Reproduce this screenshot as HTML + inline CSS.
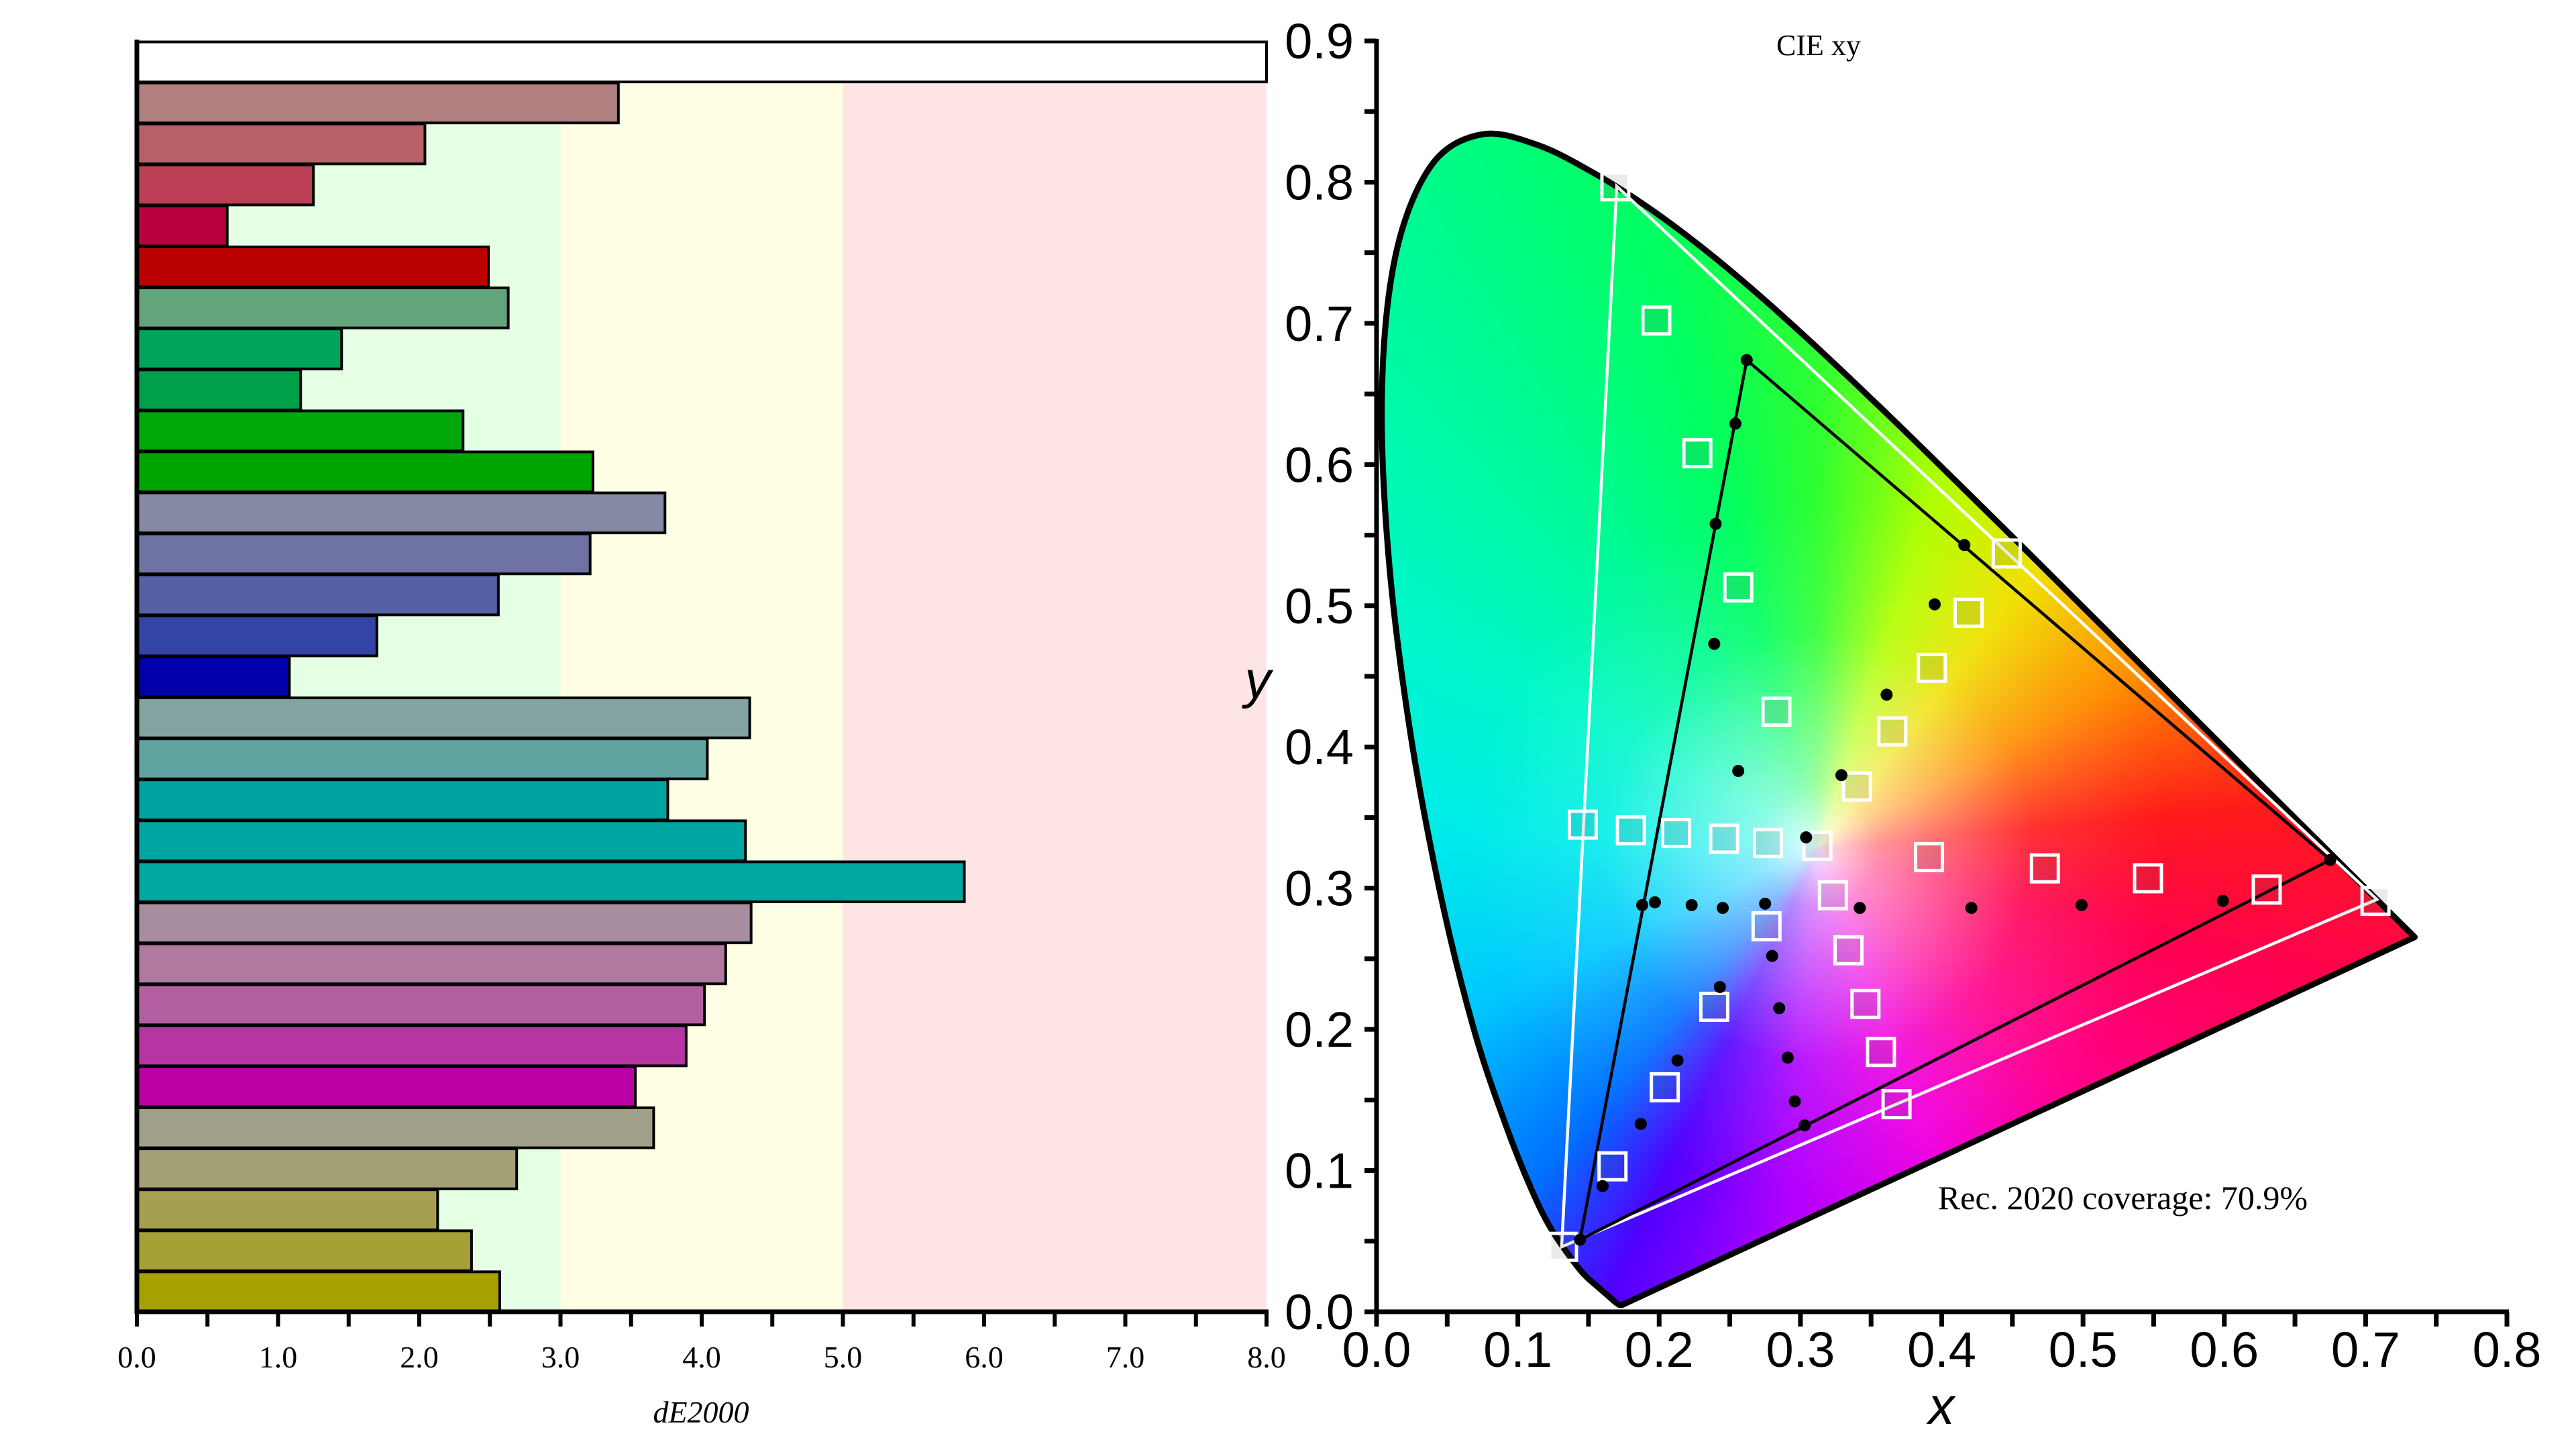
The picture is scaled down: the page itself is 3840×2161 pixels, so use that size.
<!DOCTYPE html>
<html><head><meta charset="utf-8"><style>
html,body{margin:0;padding:0;background:#fff;}
#wrap{position:relative;width:3840px;height:2161px;overflow:hidden;}
#fill{position:absolute;left:0;top:0;width:3840px;height:2161px;}
svg{position:absolute;left:0;top:0;}
</style></head><body>
<div id="wrap">
<div id="fill"></div>
<svg id="svg" width="3840" height="2161" xmlns="http://www.w3.org/2000/svg"></svg>
</div>
<script>
// ---- bar chart data ----
const barValues = [8.0,3.41,2.04,1.25,0.64,2.49,2.63,1.45,1.16,2.31,3.23,3.74,3.21,2.56,1.70,1.08,4.34,4.04,3.76,4.31,5.86,4.35,4.17,4.02,3.89,3.53,3.66,2.69,2.13,2.37,2.57];
const barColors = ['#ffffff','#b07f80','#b86068','#bb4055','#bb0040','#bb0000','#64a47a','#00a35c','#00a04a','#00a80a','#00a500','#8589a3','#6e73a3','#5660a5','#3344a5','#0000aa','#82a3a0','#5ea3a0','#00a3a0','#00a6a3','#00a8a0','#a78d9f','#b07aa0','#b55fa3','#b735a3','#bb00a3','#a0a08a','#a3a075','#a5a04f','#a6a035','#a6a000'];
const bandEdges = [0,3,5,8];
const bandColors = ['#e5ffe5','#ffffe5','#ffe4e6'];
const barTicks = ['0.0','1.0','2.0','3.0','4.0','5.0','6.0','7.0','8.0'];
// ---- CIE chart data ----
const locusX = [0.1741,0.1738,0.1733,0.1726,0.1714,0.1689,0.1644,0.1566,0.1440,0.1241,0.1096,0.0913,0.0687,0.0454,0.0235,0.0082,0.0039,0.0139,0.0389,0.0743,0.1142,0.1547,0.1929,0.2296,0.2658,0.3016,0.3373,0.3731,0.4087,0.4441,0.4788,0.5125,0.5448,0.5752,0.6029,0.6270,0.6482,0.6658,0.6915,0.7079,0.7190,0.7260,0.7347];
const locusY = [0.0050,0.0049,0.0048,0.0048,0.0051,0.0069,0.0109,0.0177,0.0297,0.0578,0.0868,0.1327,0.2007,0.2950,0.4127,0.5384,0.6548,0.7502,0.8120,0.8338,0.8262,0.8059,0.7816,0.7543,0.7243,0.6923,0.6589,0.6245,0.5896,0.5547,0.5202,0.4866,0.4544,0.4242,0.3965,0.3725,0.3514,0.3340,0.3083,0.2920,0.2809,0.2740,0.2653];
const rec2020X = [0.708,0.170,0.131];
const rec2020Y = [0.292,0.797,0.046];
const gamutX = [0.675,0.262,0.144];
const gamutY = [0.320,0.674,0.051];
const targetX = [0.169,0.198,0.227,0.256,0.283,0.146,0.180,0.212,0.246,0.277,0.312,0.340,0.365,0.393,0.419,0.446,0.391,0.473,0.546,0.630,0.707,0.323,0.334,0.346,0.357,0.368,0.276,0.239,0.204,0.167,0.132];
const targetY = [0.797,0.702,0.608,0.513,0.425,0.345,0.341,0.339,0.335,0.332,0.330,0.372,0.411,0.456,0.495,0.537,0.322,0.314,0.307,0.299,0.291,0.295,0.256,0.218,0.184,0.147,0.273,0.216,0.159,0.103,0.046];
const measX = [0.262,0.254,0.240,0.239,0.256,0.188,0.197,0.223,0.245,0.275,0.304,0.329,0.361,0.395,0.416,0.342,0.421,0.499,0.599,0.675,0.280,0.285,0.291,0.296,0.303,0.243,0.213,0.187,0.160,0.144];
const measY = [0.674,0.629,0.558,0.473,0.383,0.288,0.290,0.288,0.286,0.289,0.336,0.380,0.437,0.501,0.543,0.286,0.286,0.288,0.291,0.320,0.252,0.215,0.180,0.149,0.132,0.230,0.178,0.133,0.089,0.051];
const xTicks = ['0.0','0.1','0.2','0.3','0.4','0.5','0.6','0.7','0.8'];
const yTicks = ['0.0','0.1','0.2','0.3','0.4','0.5','0.6','0.7','0.8','0.9'];

const NS='http://www.w3.org/2000/svg';
const svg=document.getElementById('svg');
function mk(tag,attrs,parent){const e=document.createElementNS(NS,tag);for(const k in attrs)e.setAttribute(k,attrs[k]);(parent||svg).appendChild(e);return e;}

// ---- bar chart ----
const BL=204,BR=1888,BT=61,BB=1955;
const bx=v=>BL+(v/8)*(BR-BL);
const rowH=(BB-BT)/barValues.length;
const by=i=>BT+i*rowH;
const gBands=mk('g',{});


for(let i=0;i<bandColors.length;i++){
  const r=mk('rect',{x:bx(bandEdges[i]),y:by(1),width:bx(bandEdges[i+1])-bx(bandEdges[i]),height:BB-by(1),fill:bandColors[i]},gBands);
  
  
}
const gBars=mk('g',{});


for(let i=0;i<barValues.length;i++){
  const r=mk('rect',{x:bx(0),y:by(i)+1.5,width:bx(barValues[i])-bx(0),height:rowH-1.5,fill:barColors[i],stroke:'#000','stroke-width':4},gBars);
  
  
}
const gBA=mk('g',{});


mk('line',{x1:BL,y1:BT-2,x2:BL,y2:BB+3,stroke:'#000','stroke-width':7},gBA);
mk('line',{x1:BL-3,y1:BB,x2:BR+3,y2:BB,stroke:'#000','stroke-width':7},gBA);
for(let k=0;k<=16;k++){
  mk('line',{x1:bx(k/2),y1:BB,x2:bx(k/2),y2:BB+22,stroke:'#000','stroke-width':6},gBA);
}
for(let i=0;i<barTicks.length;i++){
  const t=mk('text',{x:bx(i),y:2038,'text-anchor':'middle','font-family':'Liberation Serif, serif','font-size':46,fill:'#000'},gBA);
  t.textContent=barTicks[i];
  
  
}
const bxt=mk('text',{x:1045,y:2120,'text-anchor':'middle','font-family':'Liberation Serif, serif','font-size':46,'font-style':'italic',fill:'#000'});
bxt.textContent='dE2000';



// ---- CIE chart ----
const CL=2052,CR=3737,CB=1955,CT=61;
const cx=v=>CL+(v/0.8)*(CR-CL);
const cy=v=>CB-(v/0.9)*(CB-CT);
// smooth closed path (Catmull-Rom through locus points, straight purple line)
const P=locusX.map((x,i)=>[cx(x),cy(locusY[i])]);
let d='M'+P[0][0].toFixed(1)+' '+P[0][1].toFixed(1)+' ';
for(let i=0;i<P.length-1;i++){
  const p0=P[Math.max(i-1,0)],p1=P[i],p2=P[i+1],p3=P[Math.min(i+2,P.length-1)];
  const c1=[p1[0]+(p2[0]-p0[0])/6,p1[1]+(p2[1]-p0[1])/6];
  const c2=[p2[0]-(p3[0]-p1[0])/6,p2[1]-(p3[1]-p1[1])/6];
  d+='C'+c1[0].toFixed(1)+' '+c1[1].toFixed(1)+' '+c2[0].toFixed(1)+' '+c2[1].toFixed(1)+' '+p2[0].toFixed(1)+' '+p2[1].toFixed(1)+' ';
}
d+='Z';
const wpx=cx(0.3127),wpy=cy(0.329);
const fill=document.getElementById('fill');
fill.style.clipPath="path('"+d+"')";
fill.style.background=
 `radial-gradient(circle at ${wpx}px ${wpy}px, rgba(255,255,255,0.9) 0px, rgba(255,255,255,0.55) 90px, rgba(255,255,255,0.1) 320px, rgba(255,255,255,0) 520px),`+
 `conic-gradient(from 0deg at ${wpx}px ${wpy}px, #30ff30 0deg, #b0ff00 18deg, #f0e000 38deg, #ff8c00 62deg, #ff1a1a 85deg, #ff0050 105deg, #ff0090 135deg, #f000e0 160deg, #b000ff 185deg, #5000ff 205deg, #0070ff 220deg, #00c8ff 245deg, #00ecea 272deg, #00f8c8 300deg, #00fa98 325deg, #00ff60 345deg, #30ff30 360deg)`;

const gLoc=mk('path',{d:d,fill:'none',stroke:'#000','stroke-width':9,'stroke-linejoin':'round'});



function tri(X,Y,color,name){
  let p='';for(let i=0;i<X.length;i++)p+=cx(X[i])+','+cy(Y[i])+' ';
  const e=mk('polygon',{points:p,fill:'none',stroke:color,'stroke-width':4.5});
  
  
}
tri(rec2020X,rec2020Y,'#fff','rec2020-triangle');
tri(gamutX,gamutY,'#000','display-gamut-triangle');

const gT=mk('g',{});


for(let i=0;i<targetX.length;i++){
  const r=mk('rect',{x:cx(targetX[i])-20,y:cy(targetY[i])-20,width:40,height:40,fill:'rgba(80,80,80,0.12)',stroke:'#fff','stroke-width':5},gT);
  
  
}
const gM=mk('g',{});


for(let i=0;i<measX.length;i++){
  const c=mk('circle',{cx:cx(measX[i]),cy:cy(measY[i]),r:9,fill:'#000'},gM);
  
  
}

const gAx=mk('g',{});


mk('line',{x1:CL,y1:CT-3,x2:CL,y2:CB+3,stroke:'#000','stroke-width':7},gAx);
mk('line',{x1:CL-3,y1:CB,x2:CR+3,y2:CB,stroke:'#000','stroke-width':7},gAx);
for(let k=0;k<=16;k++){mk('line',{x1:cx(k*0.05),y1:CB,x2:cx(k*0.05),y2:CB+22,stroke:'#000','stroke-width':7},gAx);}
for(let k=0;k<=18;k++){mk('line',{x1:CL-18,y1:cy(k*0.05),x2:CL,y2:cy(k*0.05),stroke:'#000','stroke-width':7},gAx);}
for(let i=0;i<xTicks.length;i++){
  const t=mk('text',{x:cx(i*0.1),y:2037,'text-anchor':'middle','font-family':'Liberation Sans, sans-serif','font-size':74,fill:'#000'},gAx);
  t.textContent=xTicks[i];
  
  
}
for(let i=0;i<yTicks.length;i++){
  const t=mk('text',{x:2018,y:cy(i*0.1)+26,'text-anchor':'end','font-family':'Liberation Sans, sans-serif','font-size':74,fill:'#000'},gAx);
  t.textContent=yTicks[i];
  
  
}
const xt=mk('text',{x:2894,y:2122,'text-anchor':'middle','font-family':'Liberation Sans, sans-serif','font-size':78,'font-style':'italic',fill:'#000'});
xt.textContent='x';


const yt=mk('text',{x:1875,y:1040,'text-anchor':'middle','font-family':'Liberation Sans, sans-serif','font-size':78,'font-style':'italic',fill:'#000'});
yt.textContent='y';


const tt=mk('text',{x:2711,y:82,'text-anchor':'middle','font-family':'Liberation Serif, serif','font-size':44,fill:'#000'});
tt.textContent='CIE xy';


const cov=mk('text',{x:3440,y:1802,'text-anchor':'end','font-family':'Liberation Serif, serif','font-size':50,fill:'#000'});
cov.textContent='Rec. 2020 coverage: 70.9%';


</script>
</body></html>
